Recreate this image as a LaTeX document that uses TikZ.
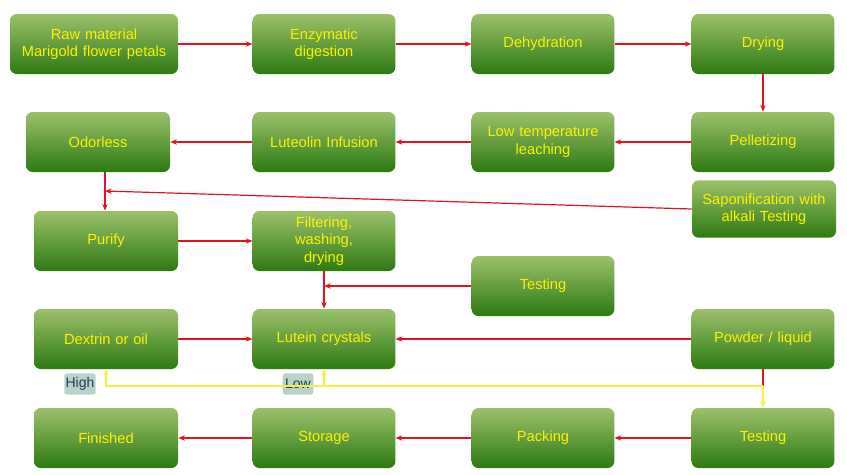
\documentclass[tikz,border=0pt]{standalone}
\usepackage{fontspec}
\setmainfont{Liberation Sans}
\usetikzlibrary{arrows.meta}
\definecolor{boxtop}{HTML}{9BC16A}
\definecolor{boxbot}{HTML}{2C7A12}
\definecolor{flowred}{HTML}{E0141E}
\definecolor{flowyel}{HTML}{F5F23A}
\definecolor{tagbg}{HTML}{B9D3C8}
\definecolor{tagtxt}{HTML}{1B3A5C}
\tikzset{
  stage/.style = {rectangle, rounded corners = 5pt, top color = boxtop, bottom color = boxbot,
    minimum width = 107pt, minimum height = 45pt, text width = 104pt, align = center,
    text = yellow, font = \fontsize{11}{13}\selectfont, inner sep = 1pt},
  flow/.style = {draw = flowred, line width = 0.9pt, -{Stealth[length = 5pt, width = 4pt]}},
  yflow/.style = {draw = flowyel, line width = 1.1pt, -{Stealth[length = 5pt, width = 4pt]}},
  tag/.style = {fill = tagbg, rounded corners = 2pt, text = tagtxt, font = \fontsize{10.5}{12}\selectfont,
    minimum width = 23pt, minimum height = 16pt, inner sep = 1pt}
}
\begin{document}
\begin{tikzpicture}[x = 0.75pt, y = -0.75pt]
  \useasboundingbox (0, 0) rectangle (847, 475);

  % Nodes
  \node [stage, minimum width = 126pt, text width = 124pt] (raw) at (94, 44) {Raw material\\Marigold flower petals};
  \node [stage] (enz) at (324, 44) {Enzymatic\\digestion};
  \node [stage] (dehyd) at (543, 44) {Dehydration};
  \node [stage] (dry) at (763, 44) {Drying};

  \node [stage, minimum width = 108pt] (odor) at (98, 142) {Odorless};
  \node [stage] (lut) at (324, 142) {Luteolin Infusion};
  \node [stage] (leach) at (543, 142) {Low temperature\\leaching};
  \node [stage] (pellet) at (763, 142) {Pelletizing};

  \node [stage, minimum width = 108pt, minimum height = 43pt] (sapon) at (764, 209) {Saponification with\\alkali Testing};
  \node [stage, minimum width = 108pt] (purify) at (106, 241) {Purify};
  \node [stage] (filter) at (324, 241) {Filtering,\\washing,\\drying};
  \node [stage] (test1) at (543, 286) {Testing};

  \node [stage, minimum width = 108pt] (dextrin) at (106, 339) {Dextrin or oil};
  \node [stage] (crystal) at (324, 339) {Lutein crystals};
  \node [stage] (powder) at (763, 339) {Powder / liquid};

  \node [stage, minimum width = 108pt] (finish) at (106, 438) {Finished};
  \node [stage] (store) at (324, 438) {Storage};
  \node [stage] (pack) at (543, 438) {Packing};
  \node [stage] (test2) at (763, 438) {Testing};

  \node [tag] (high) at (80, 384) {High};
  \node [tag] (low) at (298, 384) {Low};

  \coordinate (odorfoot) at (105, 191);
  \coordinate (testjoin) at (324, 286);
  \coordinate (ybend) at (763, 386);

  % Red flow
  \draw [flow] (raw) -- (enz);
  \draw [flow] (enz) -- (dehyd);
  \draw [flow] (dehyd) -- (dry);
  \draw [flow] (dry) -- (pellet);
  \draw [flow] (pellet) -- (leach);
  \draw [flow] (leach) -- (lut);
  \draw [flow] (lut) -- (odor);
  \draw [flow] (odor.south -| odorfoot) -- (purify.north -| odorfoot);
  \draw [flow] (sapon.west) -- (odorfoot);
  \draw [flow] (purify) -- (filter);
  \draw [flow] (filter) -- (crystal);
  \draw [flow] (test1) -- (testjoin);
  \draw [flow] (dextrin) -- (crystal);
  \draw [flow] (powder) -- (crystal);
  \draw [flow] (test2) -- (pack);
  \draw [flow] (pack) -- (store);
  \draw [flow] (store) -- (finish);

  % Yellow split
  \draw [draw = flowred, line width = 0.9pt] (powder.south) -- (ybend);
  \draw [yflow] (ybend) -- (test2.north);
  \draw [yflow] (ybend) -| (dextrin.south);
  \draw [yflow] (ybend -| crystal.south) -- (crystal.south);

\end{tikzpicture}
\end{document}
